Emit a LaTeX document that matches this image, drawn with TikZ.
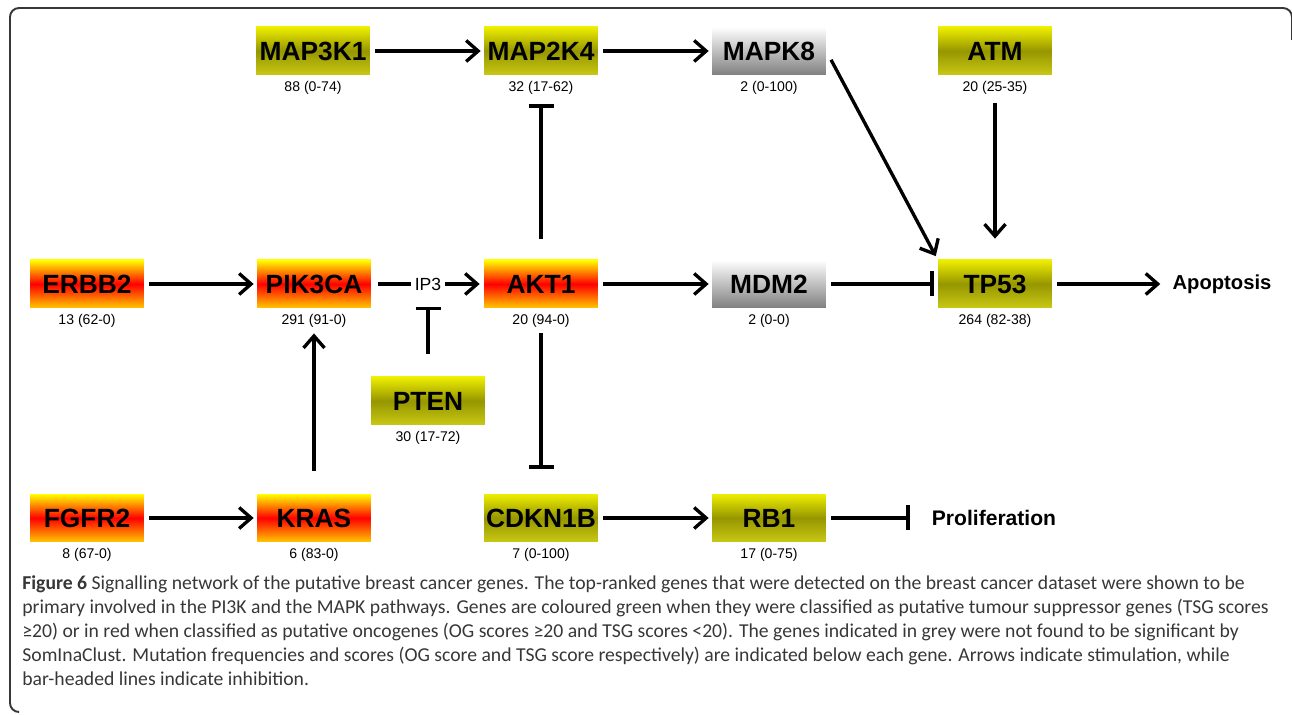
\documentclass[tikz,border=0pt]{standalone}
\usepackage{fontspec}
\setsansfont{Liberation Sans}
\newfontfamily\capfont{Carlito}
\usepackage{tikz}
\usepackage{xcolor}
\usetikzlibrary{arrows.meta, positioning, calc}

\definecolor{oncobot}{RGB}{255,200,0}
\definecolor{tsgtop}{RGB}{238,238,0}
\definecolor{tsgmid}{RGB}{150,150,0}
\definecolor{tsgbot}{RGB}{200,200,20}
\definecolor{captext}{RGB}{55,55,55}

\begin{document}
\begin{tikzpicture}[x=0.02cm, y=-0.02cm,
  gene/.style={minimum width=2.28cm, minimum height=0.96cm, inner sep=0pt, font=\sffamily\bfseries\fontsize{15}{18}\selectfont},
  onco/.style={gene, top color=yellow, bottom color=oncobot, middle color=red},
  tsg/.style={gene, top color=tsgtop, bottom color=tsgbot, middle color=tsgmid},
  nsig/.style={gene, top color=white, bottom color=gray, middle color=gray!50},
  score/.style={inner sep=0pt, font=\sffamily\fontsize{8}{9.6}\selectfont},
  act/.style={-{Straight Barb[length=0.24cm, width=0.42cm]}, line width=1.9pt, shorten <=0.1cm, shorten >=0.06cm},
  inh/.style={-{Bar[width=0.5cm]}, line width=1.9pt, shorten <=0.1cm, shorten >=0.08cm}]
\useasboundingbox (0,0) rectangle (1292,715);

% Frame
\draw[captext, line width=1.1pt, rounded corners=0.18cm] (18,712) -- (10,712) -- (10,8) -- (1292,8) -- (1292,40);

% Top row
\node[tsg] (map3k1) at (313,51) {MAP3K1};
\node[tsg] (map2k4) at (541,51) {MAP2K4};
\node[nsig] (mapk8) at (769,51) {MAPK8};
\node[tsg] (atm) at (995,51) {ATM};
\node[score, below=3pt of map3k1] (map3k1-s) {88 (0-74)};
\node[score, below=3pt of map2k4] (map2k4-s) {32 (17-62)};
\node[score, below=3pt of mapk8] (mapk8-s) {2 (0-100)};
\node[score, below=3pt of atm] (atm-s) {20 (25-35)};

% Middle row
\node[onco] (erbb2) at (87,284) {ERBB2};
\node[onco] (pik3ca) at (314,284) {PIK3CA};
\node[inner sep=2pt, font=\sffamily\fontsize{10}{12}\selectfont] (ip3) at (428,284) {IP3};
\node[onco] (akt1) at (541,284) {AKT1};
\node[nsig] (mdm2) at (769,284) {MDM2};
\node[tsg] (tp53) at (995,284) {TP53};
\node[inner sep=0pt, font=\sffamily\bfseries\fontsize{11.5}{14}\selectfont] (apop) at (1222,284) {Apoptosis};
\node[score, below=3pt of erbb2] (erbb2-s) {13 (62-0)};
\node[score, below=3pt of pik3ca] (pik3ca-s) {291 (91-0)};
\node[score, below=3pt of akt1] (akt1-s) {20 (94-0)};
\node[score, below=3pt of mdm2] (mdm2-s) {2 (0-0)};
\node[score, below=3pt of tp53] (tp53-s) {264 (82-38)};

\node[tsg] (pten) at (428,401) {PTEN};
\node[score, below=3pt of pten] (pten-s) {30 (17-72)};

% Bottom row
\node[onco] (fgfr2) at (87,518) {FGFR2};
\node[onco] (kras) at (314,518) {KRAS};
\node[tsg] (cdkn1b) at (541,518) {CDKN1B};
\node[tsg] (rb1) at (769,518) {RB1};
\node[inner sep=0pt, font=\sffamily\bfseries\fontsize{12}{14}\selectfont] (prolif) at (994,518) {Proliferation};
\node[score, below=3pt of fgfr2] (fgfr2-s) {8 (67-0)};
\node[score, below=3pt of kras] (kras-s) {6 (83-0)};
\node[score, below=3pt of cdkn1b] (cdkn1b-s) {7 (0-100)};
\node[score, below=3pt of rb1] (rb1-s) {17 (0-75)};

% Stimulation
\draw[act] (map3k1) -- (map2k4);
\draw[act] (map2k4) -- (mapk8);
\draw[act, shorten <=0.2cm, shorten >=0.08cm] (mapk8.east) -- (tp53.north west);
\draw[act, shorten <=0.18cm, shorten >=0.42cm] (atm-s) -- (tp53);
\draw[act] (erbb2) -- (pik3ca);
\draw[line width=1.9pt, shorten <=0.14cm] (pik3ca) -- (ip3);
\draw[act, shorten <=0pt, shorten >=0.08cm] (ip3) -- (akt1);
\draw[act] (akt1) -- (mdm2);
\draw[act, shorten >=0.24cm] (tp53) -- (apop);
\draw[act] (fgfr2) -- (kras);
\draw[act, shorten <=0.46cm, shorten >=0.12cm] (kras) -- (pik3ca-s);
\draw[act] (cdkn1b) -- (rb1);

% Inhibition
\draw[inh, shorten <=0.42cm, shorten >=0.2cm] (akt1) -- (map2k4-s);
\draw[inh, shorten <=0.12cm, shorten >=0.5cm] (akt1-s) -- (cdkn1b);
\draw[inh, shorten <=0.46cm, shorten >=0.26cm] (pten) -- (ip3);
\draw[inh] (mdm2) -- (tp53);
\draw[inh, shorten >=0.44cm] (rb1) -- (prolif);

% Caption
\node[anchor=north west, align=left, inner sep=0pt, text=captext, font=\capfont\fontsize{11.2}{13.66}\selectfont] (caption) at (22,575)
{\textbf{Figure 6} Signalling network of the putative breast cancer genes. The top-ranked genes that were detected on the breast cancer dataset were shown to be\\
primary involved in the PI3K and the MAPK pathways. Genes are coloured green when they were classified as putative tumour suppressor genes (TSG scores\\
≥20) or in red when classified as putative oncogenes (OG scores ≥20 and TSG scores <20). The genes indicated in grey were not found to be significant by\\
SomInaClust. Mutation frequencies and scores (OG score and TSG score respectively) are indicated below each gene. Arrows indicate stimulation, while\\
bar-headed lines indicate inhibition.};
\end{tikzpicture}
\end{document}
